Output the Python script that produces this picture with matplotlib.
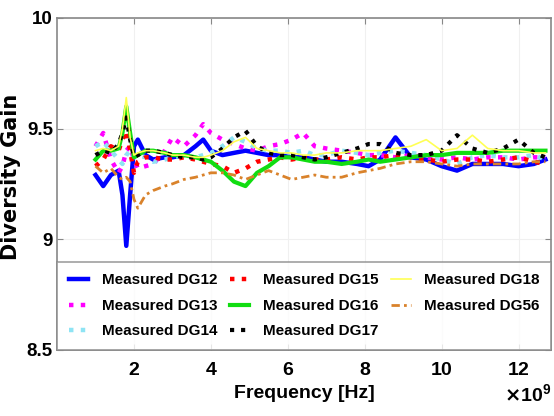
import matplotlib
matplotlib.use("Agg")
import matplotlib.pyplot as plt
from matplotlib.ticker import ScalarFormatter

# Frequency grid (GHz) and measured diversity gain per pair
freq_ghz = [1.0, 1.2, 1.4, 1.6, 1.7, 1.8, 1.9, 2.0, 2.1, 2.3, 2.5, 2.8, 3.0, 3.3,
            3.6, 3.8, 4.0, 4.3, 4.6, 4.9, 5.2, 5.5, 5.8, 6.1, 6.4, 6.7, 7.0, 7.4,
            7.8, 8.1, 8.4, 8.8, 9.2, 9.6, 10.0, 10.4, 10.8, 11.2, 11.6, 12.0, 12.4, 12.7]

dg12 = [9.29, 9.24, 9.29, 9.31, 9.20, 8.97, 9.20, 9.42, 9.45, 9.38, 9.36, 9.37, 9.37, 9.38,
        9.42, 9.45, 9.40, 9.38, 9.39, 9.40, 9.39, 9.38, 9.38, 9.37, 9.37, 9.36, 9.35, 9.35,
        9.34, 9.33, 9.36, 9.46, 9.37, 9.36, 9.33, 9.31, 9.34, 9.34, 9.34, 9.33, 9.34, 9.36]
dg13 = [9.42, 9.48, 9.36, 9.30, 9.33, 9.40, 9.42, 9.36, 9.32, 9.33, 9.34, 9.40, 9.46, 9.42,
        9.47, 9.52, 9.48, 9.45, 9.43, 9.41, 9.40, 9.42, 9.43, 9.45, 9.48, 9.42, 9.41, 9.40,
        9.39, 9.38, 9.38, 9.37, 9.38, 9.37, 9.36, 9.37, 9.36, 9.37, 9.37, 9.36, 9.37, 9.37]
dg14 = [9.42, 9.44, 9.40, 9.36, 9.34, 9.38, 9.40, 9.37, 9.38, 9.37, 9.35, 9.36, 9.37, 9.38,
        9.37, 9.38, 9.39, 9.42, 9.46, 9.44, 9.41, 9.40, 9.40, 9.39, 9.40, 9.38, 9.38, 9.40,
        9.39, 9.38, 9.39, 9.40, 9.39, 9.38, 9.36, 9.34, 9.37, 9.38, 9.37, 9.37, 9.38, 9.36]
dg15 = [9.33, 9.36, 9.42, 9.40, 9.45, 9.49, 9.40, 9.30, 9.35, 9.37, 9.37, 9.36, 9.36, 9.37,
        9.36, 9.35, 9.34, 9.33, 9.30, 9.32, 9.35, 9.36, 9.37, 9.36, 9.37, 9.36, 9.36, 9.37,
        9.36, 9.37, 9.37, 9.38, 9.37, 9.36, 9.35, 9.36, 9.36, 9.35, 9.36, 9.37, 9.35, 9.34]
dg16 = [9.36, 9.40, 9.40, 9.41, 9.48, 9.60, 9.48, 9.37, 9.38, 9.40, 9.40, 9.39, 9.38, 9.38,
        9.37, 9.36, 9.35, 9.31, 9.26, 9.24, 9.30, 9.33, 9.37, 9.37, 9.36, 9.35, 9.35, 9.34,
        9.35, 9.36, 9.35, 9.36, 9.37, 9.38, 9.38, 9.39, 9.39, 9.39, 9.40, 9.40, 9.40, 9.40]
dg17 = [9.38, 9.40, 9.39, 9.43, 9.48, 9.55, 9.45, 9.37, 9.38, 9.40, 9.40, 9.39, 9.38, 9.37,
        9.37, 9.36, 9.37, 9.41, 9.46, 9.49, 9.42, 9.39, 9.38, 9.38, 9.37, 9.36, 9.37, 9.39,
        9.41, 9.43, 9.43, 9.39, 9.38, 9.38, 9.40, 9.47, 9.41, 9.39, 9.41, 9.45, 9.39, 9.37]
dg18 = [9.40, 9.41, 9.40, 9.42, 9.50, 9.64, 9.46, 9.38, 9.39, 9.40, 9.40, 9.39, 9.38, 9.38,
        9.37, 9.37, 9.38, 9.40, 9.44, 9.46, 9.41, 9.40, 9.39, 9.39, 9.38, 9.38, 9.39, 9.39,
        9.40, 9.40, 9.40, 9.41, 9.42, 9.45, 9.40, 9.41, 9.47, 9.41, 9.40, 9.40, 9.39, 9.39]
dg56 = [9.33, 9.30, 9.32, 9.28, 9.27, 9.28, 9.26, 9.18, 9.14, 9.20, 9.22, 9.24, 9.25, 9.27,
        9.28, 9.29, 9.30, 9.30, 9.29, 9.27, 9.29, 9.31, 9.29, 9.27, 9.28, 9.29, 9.28, 9.28,
        9.30, 9.31, 9.32, 9.34, 9.35, 9.35, 9.34, 9.33, 9.34, 9.34, 9.34, 9.34, 9.35, 9.35]

labels = ["Measured DG12", "Measured DG13", "Measured DG14", "Measured DG15",
          "Measured DG16", "Measured DG17", "Measured DG18", "Measured DG56"]

freq = [f * 1e9 for f in freq_ghz]

plt.rcParams['font.family'] = ['Liberation Sans', 'DejaVu Sans']
plt.rcParams['font.weight'] = 'bold'

fig = plt.figure(figsize=(5.54, 4.16), dpi=100)
ax = fig.add_axes([0.103, 0.159, 0.892, 0.798])

styles = [
    dict(color='#0000ff', ls='-', lw=3.2),
    dict(color='#ff00ff', ls=':', lw=3.2),
    dict(color='#8ee4f4', ls=':', lw=3.2),
    dict(color='#ff0000', ls=':', lw=3.2),
    dict(color='#11dd11', ls='-', lw=3.0),
    dict(color='#000000', ls=':', lw=3.0),
    dict(color='#ffff55', ls='-', lw=1.2),
    dict(color='#d9822b', ls=(0, (3, 1.5, 1, 1.5)), lw=2.0),
]
series = [dg12, dg13, dg14, dg15, dg16, dg17, dg18, dg56]
for s, lab, st in zip(series, labels, styles):
    ax.plot(freq, s, label=lab, **st)

ax.set_xlim(0, 12.85e9)
ax.set_ylim(8.5, 10)
ax.set_xticks([2e9, 4e9, 6e9, 8e9, 10e9, 12e9])
ax.set_yticks([8.5, 9, 9.5, 10])
ax.set_yticklabels(['8.5', '9', '9.5', '10'])

fmt = ScalarFormatter(useMathText=True)
fmt.set_powerlimits((9, 9))
ax.xaxis.set_major_formatter(fmt)
ax.xaxis.get_offset_text().set_fontsize(14)
ax.xaxis.get_offset_text().set_fontweight('bold')

ax.grid(True, color='#f0f0f0', lw=0.8)
ax.tick_params(direction='in', length=4, color='#888888', labelsize=14,
               top=True, right=True)
ax.tick_params(axis='x', pad=9)
ax.tick_params(axis='y', pad=3, labelsize=13.5)
for sp in ax.spines.values():
    sp.set_color('#888888')
    sp.set_linewidth(1.2)

ax.set_xlabel('Frequency [Hz]', fontsize=14, fontweight='bold')
ax.xaxis.set_label_coords(0.5, -0.105)
ax.set_ylabel('Diversity Gain', fontsize=15, fontweight='bold', family='DejaVu Sans')
ax.yaxis.set_label_coords(-0.072, 0.52)

leg = ax.legend(loc='lower left', bbox_to_anchor=(0, 0, 1, 0.27), mode='expand',
                ncol=3, fontsize=11, frameon=True, fancybox=False,
                handlelength=1.3, handletextpad=0.9, borderaxespad=0,
                borderpad=0.75, labelspacing=0.75, columnspacing=0.8)
leg.get_frame().set_edgecolor('#888888')
leg.get_frame().set_linewidth(1.2)

fig.savefig('out.png', dpi=100)
